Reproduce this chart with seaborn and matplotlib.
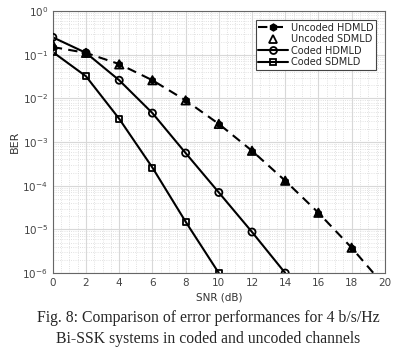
import numpy as np
import pandas as pd
import seaborn as sns
import matplotlib.pyplot as plt
from matplotlib.lines import Line2D

# SNR points (dB)
snr_uncoded = [0, 2, 4, 6, 8, 10, 12, 14, 16, 18, 20]
snr_coded_hd = [0, 2, 4, 6, 8, 10, 12, 14]
snr_coded_sd = [0, 2, 4, 6, 8, 10]

# BER values
ber_uncoded_hd = [0.15, 0.11, 0.061, 0.026, 9.0e-3, 2.6e-3, 6.3e-4, 1.3e-4, 2.4e-5, 3.8e-6, 5.0e-7]
ber_uncoded_sd = [0.17, 0.11, 0.060, 0.026, 9.0e-3, 2.6e-3, 6.3e-4, 1.3e-4, 2.4e-5, 3.8e-6, 5.0e-7]
ber_coded_hd = [0.25, 0.11, 0.026, 4.6e-3, 5.6e-4, 7.0e-5, 8.7e-6, 1.0e-6]
ber_coded_sd = [0.115, 0.032, 3.4e-3, 2.6e-4, 1.5e-5, 1.0e-6]

ber_ticks = [1e-6, 1e-5, 1e-4, 1e-3, 1e-2, 1e-1, 1e0]
labels = ['Uncoded HDMLD', 'Uncoded SDMLD', 'Coded HDMLD', 'Coded SDMLD']
caption = ['Fig. 8: Comparison of error performances for 4 b/s/Hz',
           'Bi-SSK systems in coded and uncoded channels']

sns.set_style("white")
plt.rcParams['font.family'] = ['DejaVu Sans']

fig = plt.figure(figsize=(4.16, 3.56), dpi=100)
ax = fig.add_axes([0.127, 0.233, 0.798, 0.736])

dash = (0, (4.5, 3))
# lines
sns.lineplot(x=snr_uncoded, y=ber_uncoded_hd, ax=ax, color='black', linestyle=dash, linewidth=1.5)
sns.lineplot(x=snr_coded_hd, y=ber_coded_hd, ax=ax, color='black', linewidth=1.5)
sns.lineplot(x=snr_coded_sd, y=ber_coded_sd, ax=ax, color='black', linewidth=1.5)
# markers
sns.scatterplot(x=snr_uncoded, y=ber_uncoded_hd, ax=ax, marker='h', s=22, color='black',
                edgecolor='black', linewidth=0.8, zorder=4)
sns.scatterplot(x=snr_uncoded[:-1], y=ber_uncoded_sd[:-1], ax=ax, marker='^', s=36,
                facecolor='none', edgecolor='black', linewidth=1.3, zorder=5)
sns.scatterplot(x=snr_coded_hd, y=ber_coded_hd, ax=ax, marker='o', s=26,
                facecolor='none', edgecolor='black', linewidth=1.3, zorder=5)
sns.scatterplot(x=snr_coded_sd, y=ber_coded_sd, ax=ax, marker='s', s=18,
                facecolor='none', edgecolor='black', linewidth=1.3, zorder=5)

ax.set_yscale('log')
ax.set_xlim(0, 20)
ax.set_ylim(1e-6, 1)
ax.set_xticks(range(0, 21, 2))
ax.set_yticks(ber_ticks)
ax.grid(True, which='major', color='#d8d8d8', linewidth=0.8)
ax.grid(True, which='minor', color='#d8d8d8', linestyle=':', linewidth=0.6)
ax.xaxis.set_minor_locator(plt.MultipleLocator(0.5))
ax.tick_params(axis='both', which='major', labelsize=7.5, labelcolor='#444444',
               direction='in', length=3, color='#555555')
ax.tick_params(axis='both', which='minor', direction='in', length=1.5, color='#777777')
ax.tick_params(axis='x', which='minor', length=0)
for s in ax.spines.values():
    s.set_color('#666666')
    s.set_linewidth(0.8)

ax.set_xlabel('SNR (dB)', fontsize=7.5, color='#333333', labelpad=3)
ax.set_ylabel('BER', fontsize=8, color='#333333', labelpad=2)

handles = [
    Line2D([], [], color='black', linestyle=dash, linewidth=1.5, marker='h', markersize=5),
    Line2D([], [], color='black', linestyle='none', marker='^', markersize=6,
           markerfacecolor='none', markeredgewidth=1.3),
    Line2D([], [], color='black', linewidth=1.5, marker='o', markersize=5,
           markerfacecolor='none', markeredgewidth=1.3),
    Line2D([], [], color='black', linewidth=1.5, marker='s', markersize=4.5,
           markerfacecolor='none', markeredgewidth=1.3),
]
leg = ax.legend(handles, labels, loc='upper right', fontsize=7, frameon=True, fancybox=False,
                edgecolor='#444444', handlelength=3, borderpad=0.3, labelspacing=0.15,
                handletextpad=0.3, borderaxespad=0.9, framealpha=1)
leg.get_frame().set_linewidth(0.8)

fig.text(0.5, 1 - 318 / 356, caption[0], ha='center', va='center', fontsize=11.3,
         family='Liberation Serif')
fig.text(0.5, 1 - 339 / 356, caption[1], ha='center', va='center', fontsize=11.3,
         family='Liberation Serif')

fig.savefig('out.png', dpi=100, facecolor='white')
